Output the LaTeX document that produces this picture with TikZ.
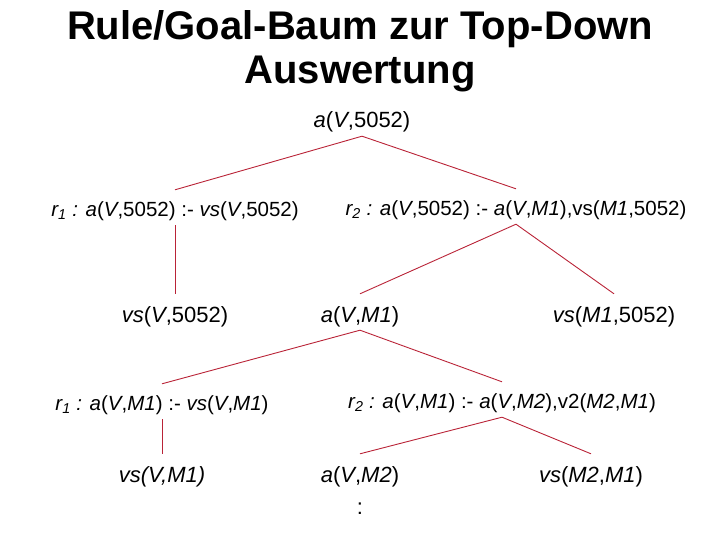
\documentclass[tikz,border=0pt]{standalone}
\usepackage{fontspec}
\setmainfont{Liberation Sans}
\usetikzlibrary{positioning}
\definecolor{edgered}{RGB}{185,35,55}
\newcommand\rlab[1]{\textit{r\textsubscript{#1} :}}

\begin{document}
\begin{tikzpicture}[
    x=1pt, y=-1pt,
    goal/.style={font=\fontsize{22}{26}\selectfont, anchor=base, inner xsep=0pt,
                 inner ysep=4pt, text height=24pt, text depth=4pt},
    rulebox/.style={font=\fontsize{20.5}{24}\selectfont, anchor=base, inner xsep=0pt,
                    inner ysep=4pt, text height=22pt, text depth=5pt},
    titletext/.style={font=\fontsize{40}{46}\bfseries\selectfont, anchor=base},
    treeline/.style={draw=edgered, line width=0.9pt},
]
\useasboundingbox (0,0) rectangle (720,540);

%% Title
\node[titletext] (t1) at (360,40) {Rule/Goal-Baum zur Top-Down};
\node[titletext] (t2) at (360,84) {Auswertung};

%% Goals and rules
\node[goal] (root) at (362,128) {\textit{a}(\textit{V},5052)};
\node[rulebox] (rA) at (175,216) {\rlab{1} \textit{a}(\textit{V},5052) :- \textit{vs}(\textit{V},5052)};
\node[rulebox] (rB) at (516,215) {\rlab{2} \textit{a}(\textit{V},5052) :- \textit{a}(\textit{V},\textit{M1}),vs(\textit{M1},5052)};

\node[goal] (vsV)  at (175,322) {\textit{vs}(\textit{V},5052)};
\node[goal] (aM)   at (360,322) {\textit{a}(\textit{V},\textit{M1})};
\node[goal] (vsM)  at (614,322) {\textit{vs}(\textit{M1},5052)};

\node[rulebox] (rC) at (162,410) {\rlab{1} \textit{a}(\textit{V},\textit{M1}) :- \textit{vs}(\textit{V},\textit{M1})};
\node[rulebox] (rD) at (502,408) {\rlab{2} \textit{a}(\textit{V},\textit{M1}) :- \textit{a}(\textit{V},\textit{M2}),v2(\textit{M2},\textit{M1})};

\node[goal] (vsVM) at (162,482) {\textit{vs(V,M1)}};
\node[goal] (aMM)  at (360,482) {\textit{a}(\textit{V},\textit{M2})};
\node[goal] (vsMM) at (591,482) {\textit{vs}(\textit{M2},\textit{M1})};
\node[goal] (more) at (360,514) {:};

%% Edges
\foreach \from/\to in {root/rA, root/rB, rA/vsV, rB/aM, rB/vsM,
                       aM/rC, aM/rD, rC/vsVM, rD/aMM, rD/vsMM}
    \draw[treeline] (\from.south) -- (\to.north);

\end{tikzpicture}
\end{document}
